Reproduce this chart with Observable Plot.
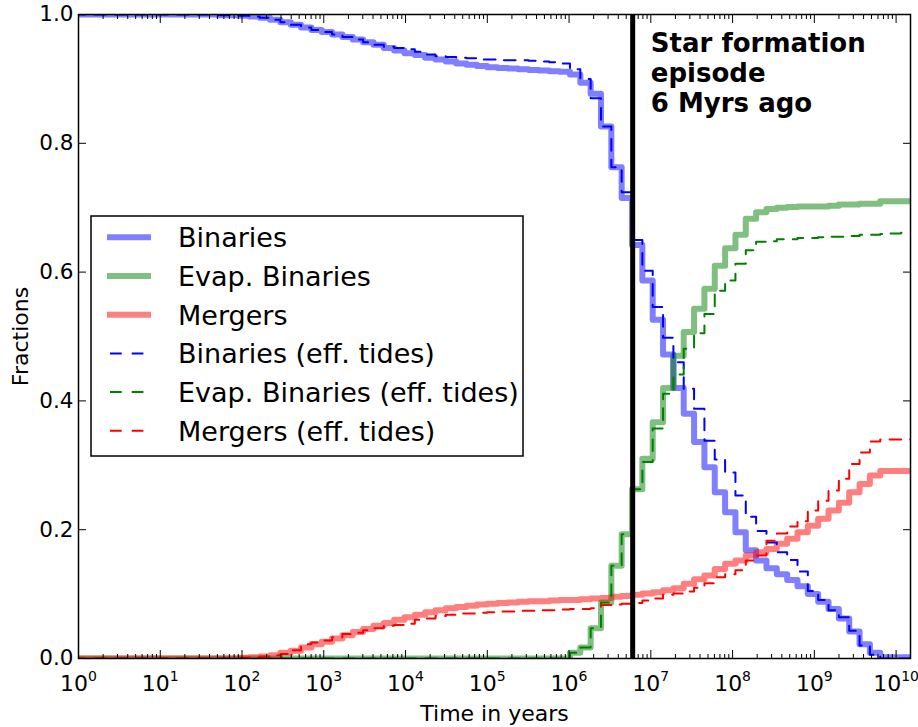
<!DOCTYPE html>
<html><head><meta charset="utf-8">
<script src="https://cdn.jsdelivr.net/npm/d3@7"></script>
<script src="https://cdn.jsdelivr.net/npm/@observablehq/plot@0.6"></script>
<style>body{margin:0;background:#fff;} svg{display:block}</style>
</head><body><div id="chart"></div>
<script>
// Fractions per logarithmic time bin (bin k starts at timeEdges[k])
const binaries = [
 1,1,1,1,1,1,1,1,1,1,1,1,
 1,1,0.999,0.999,0.998,0.997,0.995,0.992,0.988,0.984,
 0.980,0.976,0.973,0.969,0.965,0.961,0.957,0.953,0.948,0.944,
 0.940,0.937,0.933,0.930,0.927,0.924,0.922,0.920,0.918,0.917,
 0.916,0.915,0.914,0.913,0.912,0.911,0.907,0.894,0.877,0.826,
 0.763,0.715,0.642,0.587,0.526,0.472,0.420,0.380,0.336,0.297,
 0.258,0.227,0.196,0.168,0.152,0.140,0.131,0.122,0.112,0.100,
 0.088,0.077,0.062,0.042,0.022,0.009,0.002,0.002,0.002];
const evapBinaries = [
 0,0,0,0,0,0,0,0,0,0,0,0,0,0,0,0,0,0,0,0,0,0,0,0,
 0,0,0,0,0,0,0,0,0,0,0,0,0,0,0,0,0,0,0,0,0,0,0,0,
 0.009,0.017,0.047,0.087,0.144,0.193,0.263,0.310,0.367,0.420,
 0.470,0.507,0.543,0.574,0.610,0.637,0.658,0.683,0.693,0.698,
 0.700,0.701,0.702,0.702,0.702,0.703,0.705,0.705,0.706,0.706,
 0.710,0.710,0.710];
const mergers = [
 0,0,0,0,0,0,0,0,0,0,0,0,0,0,0,0,
 0.001,0.002,0.003,0.005,0.009,0.012,0.017,0.022,0.026,0.031,
 0.036,0.041,0.046,0.051,0.055,0.060,0.064,0.068,0.072,0.075,
 0.078,0.080,0.082,0.084,0.085,0.086,0.087,0.088,0.089,0.089,
 0.090,0.091,0.091,0.092,0.093,0.094,0.096,0.097,0.099,0.101,
 0.103,0.106,0.109,0.116,0.123,0.129,0.139,0.147,0.152,0.160,
 0.165,0.170,0.178,0.186,0.196,0.206,0.217,0.230,0.242,0.258,
 0.271,0.284,0.291,0.291,0.291];
const binariesTides = [
 1,1,1,1,1,1,1,1,1,1,1,1,
 1,1,0.999,0.999,0.998,0.997,0.995,0.992,0.988,0.984,
 0.980,0.976,0.973,0.969,0.965,0.961,0.957,0.953,0.950,0.948,
 0.946,0.942,0.938,0.935,0.934,0.933,0.932,0.930,0.930,0.929,
 0.929,0.929,0.928,0.927,0.926,0.924,0.915,0.900,0.870,0.826,
 0.763,0.724,0.650,0.602,0.546,0.498,0.460,0.419,0.388,0.338,
 0.309,0.289,0.253,0.220,0.198,0.180,0.165,0.153,0.135,0.105,
 0.091,0.075,0.064,0.043,0.020,0.006,0,0,0];
const evapBinariesTides = [
 0,0,0,0,0,0,0,0,0,0,0,0,0,0,0,0,0,0,0,0,0,0,0,0,
 0,0,0,0,0,0,0,0,0,0,0,0,0,0,0,0,0,0,0,0,0,0,0,0,
 0.009,0.017,0.047,0.087,0.144,0.193,0.263,0.305,0.357,0.411,
 0.441,0.481,0.505,0.535,0.571,0.587,0.613,0.634,0.647,0.648,
 0.651,0.651,0.653,0.653,0.654,0.655,0.655,0.656,0.658,0.658,
 0.659,0.660,0.661];
const mergersTides = [
 0,0,0,0,0,0,0,0,0,0,0,0,0,0,0,0,
 0.001,0.002,0.003,0.005,0.007,0.013,0.022,0.025,0.028,0.033,
 0.038,0.040,0.044,0.047,0.051,0.052,0.054,0.060,0.062,0.066,
 0.068,0.070,0.070,0.071,0.072,0.073,0.073,0.074,0.074,0.075,
 0.075,0.076,0.077,0.077,0.078,0.083,0.084,0.085,0.086,0.090,
 0.093,0.099,0.101,0.104,0.110,0.117,0.126,0.131,0.137,0.152,
 0.160,0.183,0.194,0.205,0.213,0.230,0.245,0.261,0.279,0.302,
 0.320,0.337,0.340,0.340,0.340];

// log-spaced time bin edges (years) and axis values
const timeEdges = d3.range(81).map(k => 10 ** (-0.061 + 0.1265 * k));
const tEnd = 1.5e10;
const starFormationAge = 6e6;
const majorTicks = d3.range(0, 11).map(n => 10 ** n);
const minorTicks = d3.range(0, 11).flatMap(n => d3.range(2, 10).map(m => m * 10 ** n)).filter(t => t <= tEnd);
const yTicks = [0, 0.2, 0.4, 0.6, 0.8, 1.0];
const annotation = "Star formation\nepisode\n6 Myrs ago";

const legendItems = [
  {label: "Binaries", color: "blue", dashed: false},
  {label: "Evap. Binaries", color: "green", dashed: false},
  {label: "Mergers", color: "red", dashed: false},
  {label: "Binaries (eff. tides)", color: "blue", dashed: true},
  {label: "Evap. Binaries (eff. tides)", color: "green", dashed: true},
  {label: "Mergers (eff. tides)", color: "red", dashed: true}
];

function rows(vals) {
  const r = vals.map((v, k) => ({t: timeEdges[k], v}));
  r.push({t: tEnd, v: vals[vals.length - 1]});
  return r;
}
const solid = (vals, color) => Plot.line(rows(vals), {x: "t", y: "v", curve: "step-after", stroke: color, strokeOpacity: 0.5, strokeWidth: 6, clip: true});
const dashed = (vals, color) => Plot.line(rows(vals), {x: "t", y: "v", curve: "step-after", stroke: color, strokeWidth: 2, strokeDasharray: "11.7,9", clip: true});

const plot = Plot.plot({
  width: 918, height: 727,
  marginLeft: 78, marginRight: 8, marginTop: 14, marginBottom: 69,
  style: {fontFamily: "DejaVu Sans", fontSize: "22px", background: "white", color: "black"},
  x: {type: "log", domain: [1, tEnd]},
  y: {domain: [0, 1]},
  marks: [
    solid(binaries, "blue"),
    solid(evapBinaries, "green"),
    solid(mergers, "red"),
    dashed(binariesTides, "blue"),
    dashed(evapBinariesTides, "green"),
    dashed(mergersTides, "red"),
    Plot.ruleX([starFormationAge], {stroke: "black", strokeWidth: 5}),
    Plot.text([annotation], {x: 1e7, y: 0.975, text: d => d, textAnchor: "start", lineAnchor: "top", fontWeight: "bold", fontSize: 26, lineHeight: 1.15, fill: "black"}),
    Plot.frame({stroke: "black", strokeWidth: 1.5}),
    Plot.axisX({anchor: "bottom", ticks: majorTicks, tickSize: -8, tickFormat: () => "", label: null}),
    Plot.axisX({anchor: "bottom", ticks: minorTicks, tickSize: -4, tickFormat: () => "", label: null}),
    Plot.axisX({anchor: "top", ticks: majorTicks, tickSize: -8, tickFormat: () => "", label: null}),
    Plot.axisX({anchor: "top", ticks: minorTicks, tickSize: -4, tickFormat: () => "", label: null}),
    Plot.axisX({anchor: "bottom", ticks: majorTicks, tickSize: 0, tickPadding: 17, fontSize: 22, tickFormat: d => "10^" + Math.round(Math.log10(d)), label: null}),
    Plot.axisY({anchor: "left", ticks: yTicks, tickSize: -8, tickFormat: () => "", label: null}),
    Plot.axisY({anchor: "right", ticks: yTicks, tickSize: -8, tickFormat: () => "", label: null}),
    Plot.axisY({anchor: "left", ticks: yTicks, tickSize: 0, tickPadding: 5, fontSize: 21.5, tickFormat: d3.format(".1f"), label: null}),
    Plot.text(["Time in years"], {frameAnchor: "bottom", lineAnchor: "middle", textAnchor: "middle", dy: 55, text: d => d, fontSize: 22, fill: "black"}),
    Plot.text(["Fractions"], {frameAnchor: "left", lineAnchor: "middle", textAnchor: "middle", dx: -58, rotate: -90, text: d => d, fontSize: 22, fill: "black"})
  ]
});

// superscript exponents on the x tick labels
plot.querySelectorAll("text").forEach(t => {
  const m = /^10\^(\d+)$/.exec(t.textContent);
  if (!m) return;
  t.textContent = "";
  const ns = "http://www.w3.org/2000/svg";
  const a = document.createElementNS(ns, "tspan"); a.textContent = "10"; t.appendChild(a);
  const b = document.createElementNS(ns, "tspan"); b.textContent = m[1];
  b.setAttribute("font-size", "14px"); b.setAttribute("dy", "-10"); t.appendChild(b);
});

// legend box inside the axes
const svg = d3.select(plot);
const lg = svg.append("g").attr("font-family", "DejaVu Sans").attr("font-size", 27).attr("text-anchor", "start");
lg.append("rect").attr("x", 91).attr("y", 216).attr("width", 432).attr("height", 240)
  .attr("fill", "white").attr("stroke", "black").attr("stroke-width", 1.5);
legendItems.forEach((d, i) => {
  const y = 237.3 + i * 38.7;
  const ln = lg.append("line").attr("y1", y).attr("y2", y).attr("stroke", d.color);
  if (d.dashed) ln.attr("x1", 110).attr("x2", 144).attr("stroke-width", 2).attr("stroke-dasharray", "11.7,10");
  else ln.attr("x1", 107).attr("x2", 151).attr("stroke-width", 6).attr("stroke-opacity", 0.5);
  lg.append("text").attr("x", 178).attr("y", y + 9.8).attr("fill", "black").attr("text-anchor", "start").text(d.label);
});

document.getElementById("chart").appendChild(plot);
</script></body></html>
